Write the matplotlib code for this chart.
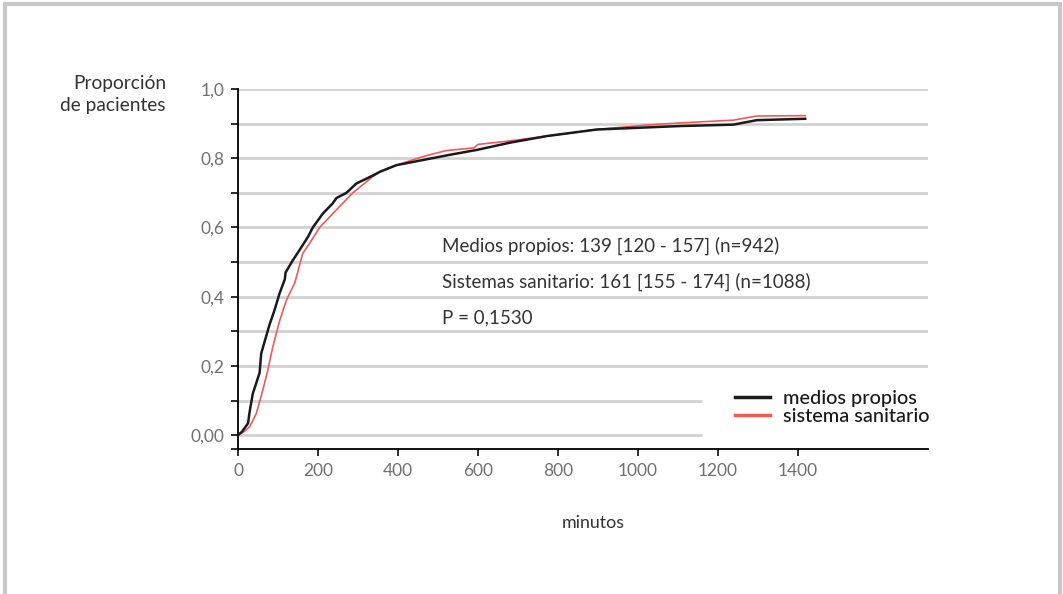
import matplotlib.pyplot as plt
from matplotlib.patches import Rectangle

# data (minutes, proportion)
medios_min = [0, 10, 25, 29, 37, 54, 58, 70, 79, 91, 104, 117, 119, 137, 154, 175, 187, 212,
              237, 246, 271, 296, 337, 355, 396, 463, 530, 597, 680, 772, 897, 1022, 1105,
              1238, 1297, 1418]
medios_prop = [0, 0.01, 0.034, 0.067, 0.12, 0.18, 0.236, 0.284, 0.32, 0.36, 0.41, 0.45, 0.47,
               0.505, 0.535, 0.573, 0.60, 0.64, 0.67, 0.685, 0.70, 0.727, 0.75, 0.761, 0.78,
               0.795, 0.81, 0.824, 0.845, 0.864, 0.883, 0.889, 0.893, 0.897, 0.91, 0.914]

sanit_min = [0, 15, 29, 46, 62, 75, 87, 104, 121, 142, 162, 179, 204, 237, 287, 337, 355, 396,
             463, 520, 590, 600, 680, 772, 897, 1022, 1105, 1238, 1297, 1418]
sanit_prop = [0, 0.01, 0.024, 0.063, 0.13, 0.19, 0.255, 0.33, 0.39, 0.44, 0.525, 0.554, 0.60,
              0.64, 0.70, 0.747, 0.761, 0.78, 0.805, 0.822, 0.830, 0.840, 0.85, 0.864, 0.883,
              0.896, 0.902, 0.91, 0.922, 0.923]

xticks = [0, 200, 400, 600, 800, 1000, 1200, 1400]
yticks = [0.0, 0.2, 0.4, 0.6, 0.8, 1.0]
ytick_labels = ['0,00', '0,2', '0,4', '0,6', '0,8', '1,0']
stats_lines = ['Medios propios: 139 [120 - 157] (n=942)',
               'Sistemas sanitario: 161 [155 - 174] (n=1088)',
               'P = 0,1530']

plt.rcParams['font.family'] = ['Lato', 'DejaVu Sans']

fig = plt.figure(figsize=(10.63, 5.94), dpi=100)
ax = fig.add_axes([238 / 1063, 1 - 449 / 594, 690 / 1063, 360 / 594])

# gray frame around the figure
fig.patches.append(Rectangle((0.005, -0.05), 0.992, 1.043, transform=fig.transFigure,
                             fill=False, edgecolor='#c8c8c8', linewidth=3))

# horizontal gridlines, lower two are shortened for the legend
for g in range(11):
    yv = g / 10
    xend = 1160 if g < 2 else 1725
    ax.hlines(yv, 0, xend, color='#d2d2d2', linewidth=2, zorder=1)

ax.plot(medios_min, medios_prop, color='#1a1a1a', linewidth=1.8, zorder=3, label='medios propios')
ax.plot(sanit_min, sanit_prop, color='#f05a5a', linewidth=1.2, zorder=2, label='sistema sanitario')

ax.set_xlim(0, 1725)
ax.set_ylim(-0.04, 1.0)
ax.spines['top'].set_visible(False)
ax.spines['right'].set_visible(False)
ax.spines['left'].set_linewidth(1.3)
ax.spines['bottom'].set_linewidth(1.3)

ax.set_xticks(xticks)
ax.set_xticklabels([str(v) for v in xticks])
ax.set_yticks(yticks)
ax.set_yticklabels(ytick_labels)
ax.set_yticks([-0.04, 0.1, 0.3, 0.5, 0.7, 0.9], minor=True)
ax.tick_params(axis='both', which='both', direction='out', length=5, width=1.3, color='#1a1a1a',
               labelcolor='#707070', labelsize=12.5)
ax.tick_params(axis='y', pad=4.5)
ax.tick_params(axis='x', pad=5)

for i, s in enumerate(stats_lines):
    ax.text(510, 0.548 - i * 0.105, s, fontsize=13.5, color='#333333', va='center')

fig.text(166 / 1063, 1 - 84 / 594, 'Proporción', ha='right', va='center', fontsize=13.8, color='#333333')
fig.text(166 / 1063, 1 - 106 / 594, 'de pacientes', ha='right', va='center', fontsize=13.8, color='#333333')
fig.text(593 / 1063, 1 - 523 / 594, 'minutos', ha='center', va='center', fontsize=12.8, color='#333333')

leg = ax.legend(loc='upper left', bbox_to_anchor=(725 / 1063, 1 - 380 / 594),
                bbox_transform=fig.transFigure, frameon=False, fontsize=14.3,
                handlelength=1.75, handletextpad=0.65, labelspacing=0.05, borderpad=0)
for h in leg.get_lines():
    h.set_linewidth(2.5)
for t in leg.get_texts():
    t.set_color('#1a1a1a')
    t.set_fontweight('medium')

fig.savefig('out.png', dpi=100)
